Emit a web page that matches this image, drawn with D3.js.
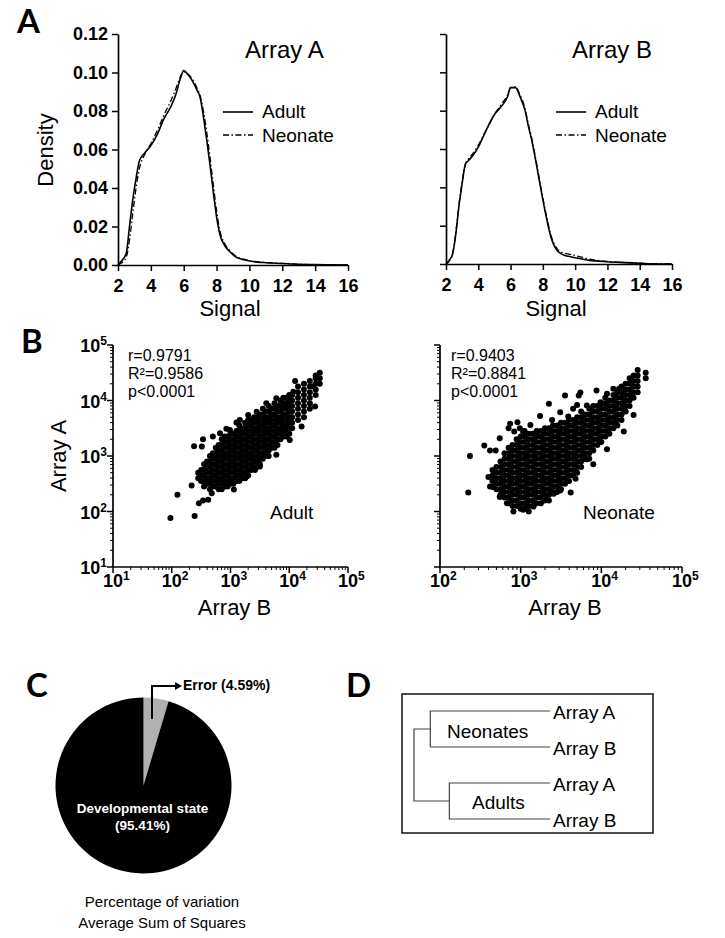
<!DOCTYPE html>
<html><head><meta charset="utf-8">
<script src="https://cdn.jsdelivr.net/npm/d3@7"></script>
<style>body{margin:0;background:#fff}svg{display:block}</style>
</head><body>
<svg id="fig" width="725" height="938"></svg>
<script>
// ================= DATA =================
// Panel A: density curves
const densityTicks = [0, 0.02, 0.04, 0.06, 0.08, 0.10, 0.12];
const signalTicks = [2, 4, 6, 8, 10, 12, 14, 16];
const signalA = [2.0,2.2,2.5,2.7,2.9,3.1,3.3,3.6,4.0,4.4,4.8,5.2,5.5,5.8,6.0,6.2,6.5,6.8,7.0,7.2,7.4,7.6,7.8,8.0,8.2,8.5,8.8,9.2,9.8,10.5,11.0,12.0,13.0,14.0,15.0,16.0];
const arrayA_adult = [0,0.002,0.006,0.020,0.034,0.045,0.054,0.058,0.062,0.068,0.076,0.082,0.088,0.097,0.101,0.0995,0.096,0.091,0.087,0.077,0.065,0.052,0.038,0.025,0.016,0.010,0.007,0.004,0.0025,0.0015,0.0012,0.0008,0.0004,0.0002,0.0001,0];
const arrayA_neonate = [0,0.001,0.004,0.013,0.027,0.040,0.050,0.057,0.063,0.070,0.078,0.085,0.091,0.098,0.1005,0.0995,0.097,0.092,0.088,0.080,0.069,0.056,0.042,0.028,0.018,0.011,0.0075,0.0045,0.0027,0.0016,0.0013,0.0008,0.0004,0.0002,0.0001,0];
const signalB = [2.0,2.2,2.4,2.6,2.8,3.0,3.2,3.4,3.7,4.0,4.5,5.0,5.4,5.8,6.0,6.3,6.6,6.9,7.1,7.3,7.6,7.9,8.2,8.5,8.8,9.2,9.6,10.1,10.9,12.0,13.2,14.2,16.0];
const arrayB_adult = [0,0.002,0.005,0.015,0.030,0.042,0.052,0.054,0.057,0.061,0.070,0.078,0.082,0.087,0.092,0.092,0.087,0.080,0.072,0.065,0.052,0.038,0.025,0.014,0.008,0.005,0.004,0.0031,0.0019,0.0012,0.0007,0.0003,0];
const arrayB_neonate = [0,0.0015,0.005,0.016,0.031,0.043,0.052,0.055,0.058,0.062,0.070,0.078,0.083,0.088,0.092,0.0925,0.088,0.081,0.073,0.066,0.053,0.039,0.026,0.015,0.009,0.006,0.0052,0.0042,0.0025,0.0013,0.0007,0.0003,0];

// Panel B: scatter, grouped as [Array B value, [Array A values]]
const adultColumns = [
 [282, [398, 501]],
 [316, [355, 447, 562]],
 [355, [282, 355, 447, 562, 708]],
 [398, [316, 398, 501, 631, 794]],
 [447, [251, 316, 398, 501, 631, 794, 1000]],
 [501, [282, 355, 447, 562, 708, 891, 1120]],
 [562, [282, 355, 447, 562, 708, 891, 1120, 1410]],
 [631, [251, 316, 398, 501, 631, 794, 1000, 1260, 1580]],
 [708, [251, 316, 398, 501, 631, 794, 1000, 1260, 1580, 2000]],
 [794, [282, 355, 447, 562, 708, 891, 1120, 1410, 1780, 2240]],
 [891, [282, 355, 447, 562, 708, 891, 1120, 1410, 1780, 2240]],
 [1000, [316, 398, 501, 631, 794, 1000, 1260, 1580, 2000, 2510]],
 [1120, [316, 398, 501, 631, 794, 1000, 1260, 1580, 2000, 2510]],
 [1260, [355, 447, 562, 708, 891, 1120, 1410, 1780, 2240, 2820]],
 [1410, [355, 447, 562, 708, 891, 1120, 1410, 1780, 2240, 2820, 3550]],
 [1580, [398, 501, 631, 794, 1000, 1260, 1580, 2000, 2510, 3160]],
 [1780, [398, 501, 631, 794, 1000, 1260, 1580, 2000, 2510, 3160, 3980]],
 [2000, [447, 562, 708, 891, 1120, 1410, 1780, 2240, 2820, 3550, 4470]],
 [2240, [562, 708, 891, 1120, 1410, 1780, 2240, 2820, 3550, 4470]],
 [2510, [631, 794, 1000, 1260, 1580, 2000, 2510, 3160, 3980, 5010]],
 [2820, [631, 794, 1000, 1260, 1580, 2000, 2510, 3160, 3980, 5010]],
 [3160, [708, 891, 1120, 1410, 1780, 2240, 2820, 3550, 4470, 5620]],
 [3550, [891, 1120, 1410, 1780, 2240, 2820, 3550, 4470, 5620, 7080]],
 [3980, [1000, 1260, 1580, 2000, 2510, 3160, 3980, 5010, 6310]],
 [4470, [1000, 1260, 1580, 2000, 2510, 3160, 3980, 5010, 6310, 7940]],
 [5010, [1410, 1780, 2240, 2820, 3550, 4470, 5620, 7080]],
 [5620, [1410, 1780, 2240, 2820, 3550, 4470, 5620, 7080, 8910]],
 [6310, [1580, 2000, 2510, 3160, 3980, 5010, 6310, 7940]],
 [7080, [2000, 2510, 3160, 3980, 5010, 6310, 7940, 10000]],
 [7940, [2240, 2820, 3550, 4470, 5620, 7080, 8910, 11200]],
 [8910, [2240, 2820, 3550, 4470, 5620, 7080, 8910, 11200]],
 [10000, [2510, 3160, 3980, 5010, 6310, 7940, 10000, 12600]],
 [11200, [3160, 3980, 5010, 6310, 7940, 10000, 12600]],
 [14100, [4470, 5620, 7080, 8910, 11200, 14100, 17800]],
 [17800, [5010, 6310, 7940, 10000, 12600, 15800, 20000]],
 [22400, [7080, 8910, 11200, 14100, 17800, 22400]],
 [28200, [12600, 15800, 20000, 25100, 28200]],
 [33100, [20000, 25100, 31600]]
];
const adultOutliers = [[95,76],[125,200],[245,83],[218,295],[240,1500],[340,2000],[325,1480],[290,141],[340,158],[417,162],[479,214],[850,3100],[1260,4000],[2780,6300],[4700,1380],[2600,560],[1140,250],[12600,22400],[25100,18000],
 [501,2240],[661,2570],[977,2950],[1445,4470],[2000,5500],[4070,8900],[6030,11000],[11700,14400],
 [1860,427],[3160,646],[6030,1050],[10200,1950],[16200,3390],[27500,7760]];
const neonateColumns = [
 [447, [282, 355, 447, 562]],
 [501, [251, 316, 398, 501, 631]],
 [562, [200, 251, 316, 398, 501, 631, 794]],
 [631, [178, 224, 282, 355, 447, 562, 708, 891, 1120]],
 [708, [141, 178, 224, 282, 355, 447, 562, 708, 891, 1120, 1410]],
 [794, [126, 158, 200, 251, 316, 398, 501, 631, 794, 1000, 1260, 1580]],
 [891, [126, 158, 200, 251, 316, 398, 501, 631, 794, 1000, 1260, 1580, 2000]],
 [1000, [112, 141, 178, 224, 282, 355, 447, 562, 708, 891, 1120, 1410, 1780, 2240]],
 [1120, [112, 141, 178, 224, 282, 355, 447, 562, 708, 891, 1120, 1410, 1780, 2240, 2820]],
 [1260, [100, 126, 158, 200, 251, 316, 398, 501, 631, 794, 1000, 1260, 1580, 2000, 2510]],
 [1410, [126, 158, 200, 251, 316, 398, 501, 631, 794, 1000, 1260, 1580, 2000, 2510]],
 [1580, [141, 178, 224, 282, 355, 447, 562, 708, 891, 1120, 1410, 1780, 2240, 2820]],
 [1780, [141, 178, 224, 282, 355, 447, 562, 708, 891, 1120, 1410, 1780, 2240, 2820]],
 [2000, [158, 200, 251, 316, 398, 501, 631, 794, 1000, 1260, 1580, 2000, 2510, 3160]],
 [2240, [158, 200, 251, 316, 398, 501, 631, 794, 1000, 1260, 1580, 2000, 2510, 3160]],
 [2510, [224, 282, 355, 447, 562, 708, 891, 1120, 1410, 1780, 2240, 2820, 3550]],
 [2820, [224, 282, 355, 447, 562, 708, 891, 1120, 1410, 1780, 2240, 2820, 3550]],
 [3160, [251, 316, 398, 501, 631, 794, 1000, 1260, 1580, 2000, 2510, 3160, 3980]],
 [3550, [316, 398, 501, 631, 794, 1000, 1260, 1580, 2000, 2510, 3160, 3980]],
 [3980, [355, 447, 562, 708, 891, 1120, 1410, 1780, 2240, 2820, 3550, 4470]],
 [4470, [447, 562, 708, 891, 1120, 1410, 1780, 2240, 2820, 3550, 4470]],
 [5010, [501, 631, 794, 1000, 1260, 1580, 2000, 2510, 3160, 3980, 5010]],
 [5620, [631, 794, 1000, 1260, 1580, 2000, 2510, 3160, 3980, 5010, 6310]],
 [6310, [891, 1120, 1410, 1780, 2240, 2820, 3550, 4470, 5620]],
 [7080, [891, 1120, 1410, 1780, 2240, 2820, 3550, 4470, 5620, 7080]],
 [7940, [1260, 1580, 2000, 2510, 3160, 3980, 5010, 6310, 7940]],
 [8910, [1580, 2000, 2510, 3160, 3980, 5010, 6310, 7940]],
 [10000, [1780, 2240, 2820, 3550, 4470, 5620, 7080, 8910]],
 [11200, [2240, 2820, 3550, 4470, 5620, 7080, 8910, 11200]],
 [12600, [2510, 3160, 3980, 5010, 6310, 7940, 10000]],
 [14100, [3160, 3980, 5010, 6310, 7940, 10000, 12600]],
 [15800, [3550, 4470, 5620, 7080, 8910, 11200, 14100]],
 [17800, [4470, 5620, 7080, 8910, 11200, 14100, 17800]],
 [20000, [6310, 7940, 10000, 12600, 15800, 20000]],
 [22400, [7940, 10000, 12600, 15800, 20000, 25100]],
 [25100, [11200, 14100, 17800, 22400, 28200]],
 [28200, [14100, 17800, 22400, 28200, 35500]],
 [35500, [25100, 31600]]
];
const neonateOutliers = [[224,219],[235,1000],[354,1550],[417,1260],[490,1260],[398,417],[417,282],[740,3800],[912,4070],[832,2750],[1070,2750],[1740,5250],[2240,8710],[3550,12300],[5250,12300],[5010,8320],[8710,15100],[15100,4270],[19000,6920],[16600,16200],[4170,219],[6610,870],[2570,209],[813,100],[1070,107],[5500,14000],
 [550,2090],[708,3160],[977,3160],[1320,3630],[1585,2750],[2450,4470],[3090,6170],[3890,5130],[4470,7080],[6610,8130],[9770,9330],[11750,13200],[14100,16200],
 [457,275],[550,182],[676,141],[1445,123],[2090,162],[3090,240],[4790,389],[7940,708],[11750,1320],[19000,2750],[25100,5500]];
const adultStats = ["r=0.9791", "R²=0.9586", "p<0.0001"];
const neonateStats = ["r=0.9403", "R²=0.8841", "p<0.0001"];

// Panel C: variance components
const variance = [{name: "Error", value: 4.59}, {name: "Developmental state", value: 95.41}];
const pieCaption = ["Percentage of variation", "Average Sum of Squares"];

// Panel D: dendrogram
const leafLabels = ["Array A", "Array B", "Array A", "Array B"];
const clusterNames = ["Neonates", "Adults"];
const mergeHeights = {root: 1.0, Neonates: 0.88, Adults: 0.74};

// ================= DRAW =================
const FONT = "'Liberation Sans', Arial, Helvetica, sans-serif";
const svg = d3.select("#fig");

function panelLabel(t, x, y) {
  svg.append("text").attr("x", x).attr("y", y).text(t)
    .attr("font-family", "Lato, 'Open Sans', sans-serif").attr("font-weight", 700).attr("font-size", 33);
}
function txt(t, x, y, size, opts = {}) {
  const e = svg.append("text").attr("x", x).attr("y", y).text(t)
    .attr("font-family", FONT).attr("font-size", size)
    .attr("font-weight", opts.bold ? 700 : 400)
    .attr("text-anchor", opts.anchor || "start")
    .attr("fill", opts.fill || "#000");
  if (opts.rotate) e.attr("transform", `rotate(-90,${x},${y})`);
  return e;
}

// ---- Panel A ----
function densityPanel(xr, yr, sig, adult, neo, title, showY, titleX, legendX) {
  const x = d3.scaleLinear().domain([2, 16]).range(xr);
  const y = d3.scaleLinear().domain([0, 0.12]).range(yr);
  const ay = svg.append("g").attr("transform", `translate(${xr[0]},0)`)
    .call(d3.axisLeft(y).tickValues(densityTicks).tickSize(6).tickSizeOuter(0).tickPadding(4)
      .tickFormat(showY ? d3.format(".2f") : () => ""));
  const ax = svg.append("g").attr("transform", `translate(0,${yr[0]})`)
    .call(d3.axisBottom(x).tickValues(signalTicks).tickSize(6).tickSizeOuter(0).tickPadding(8));
  [ay, ax].forEach(g => {
    g.attr("font-family", FONT).attr("font-size", 18).attr("font-weight", 700);
    g.select(".domain").attr("stroke", "#000").attr("stroke-width", 1.7);
    g.selectAll(".tick line").attr("stroke", "#000").attr("stroke-width", 1.5);
    g.selectAll(".tick text").attr("fill", "#000");
  });
  const line = d3.line().x((d, i) => x(sig[i])).y(d => y(d)).curve(d3.curveMonotoneX);
  svg.append("path").attr("d", line(neo)).attr("fill", "none").attr("stroke", "#000")
    .attr("stroke-width", 1.3).attr("stroke-dasharray", "6,2.5,1.5,2.5");
  svg.append("path").attr("d", line(adult)).attr("fill", "none").attr("stroke", "#000")
    .attr("stroke-width", 1.6);
  txt(title, titleX, 58, 24);
  svg.append("line").attr("x1", legendX).attr("x2", legendX + 30).attr("y1", 112).attr("y2", 112)
    .attr("stroke", "#000").attr("stroke-width", 1.6);
  svg.append("line").attr("x1", legendX).attr("x2", legendX + 30).attr("y1", 135).attr("y2", 135)
    .attr("stroke", "#000").attr("stroke-width", 1.3).attr("stroke-dasharray", "6,2.5,1.5,2.5");
  txt("Adult", legendX + 39, 118, 19);
  txt("Neonate", legendX + 39, 142, 19);
  txt("Signal", (xr[0] + xr[1]) / 2 - 3, 316, 22, {anchor: "middle"});
}
densityPanel([118, 348], [265, 34], signalA, arrayA_adult, arrayA_neonate, "Array A", true, 245, 223);
densityPanel([446, 672], [264, 34], signalB, arrayB_adult, arrayB_neonate, "Array B", false, 572, 556);
txt("Density", 53, 150, 22, {anchor: "middle", rotate: true});

// ---- Panel B ----
function logTicks(scale) {
  const [a, b] = scale.domain();
  const out = [];
  for (let e = Math.round(Math.log10(a)); e <= Math.round(Math.log10(b)); e++) {
    for (let m = 1; m <= 9; m++) {
      const v = m * Math.pow(10, e);
      if (v >= a * 0.999 && v <= b * 1.001) out.push({v, major: m === 1, e});
    }
  }
  return out;
}
function supLabel(x, y, exp, anchor) {
  const t = svg.append("text").attr("x", x).attr("y", y).attr("text-anchor", anchor)
    .attr("font-family", FONT).attr("font-weight", 700).attr("font-size", 18).attr("fill", "#000");
  t.append("tspan").text("10");
  t.append("tspan").text(exp).attr("font-size", 12).attr("dy", -7);
}
function scatterPanel(xr, yr, xDom, cols, outl, stats, group, showYLabels, statX, groupX) {
  const x = d3.scaleLog().domain(xDom).range(xr);
  const y = d3.scaleLog().domain([10, 1e5]).range(yr);
  const g = svg.append("g");
  g.append("line").attr("x1", xr[0]).attr("x2", xr[0]).attr("y1", yr[0]).attr("y2", yr[1]).attr("stroke", "#000").attr("stroke-width", 1.7);
  g.append("line").attr("x1", xr[0]).attr("x2", xr[1]).attr("y1", yr[0]).attr("y2", yr[0]).attr("stroke", "#000").attr("stroke-width", 1.7);
  logTicks(x).forEach(t => {
    g.append("line").attr("x1", x(t.v)).attr("x2", x(t.v)).attr("y1", yr[0]).attr("y2", yr[0] + (t.major ? 6 : 3))
      .attr("stroke", "#000").attr("stroke-width", t.major ? 1.5 : 1);
    if (t.major) supLabel(x(t.v) - 10, 587, String(t.e), "start");
  });
  logTicks(y).forEach(t => {
    g.append("line").attr("x1", xr[0]).attr("x2", xr[0] - (t.major ? 6 : 3)).attr("y1", y(t.v)).attr("y2", y(t.v))
      .attr("stroke", "#000").attr("stroke-width", t.major ? 1.5 : 1);
    if (t.major && showYLabels) supLabel(xr[0] - 6, y(t.v) + 7, String(t.e), "end");
  });
  const pts = [];
  cols.forEach(([b, as]) => as.forEach(a => pts.push([b, a])));
  outl.forEach(p => pts.push(p));
  g.selectAll("circle.pt").data(pts).enter().append("circle").attr("class", "pt")
    .attr("cx", d => x(d[0])).attr("cy", d => y(d[1])).attr("r", 3.0).attr("fill", "#000");
  stats.forEach((s, i) => txt(s, statX, 361 + i * 18, 16));
  txt(group, groupX, 519, 19);
  txt("Array B", (xr[0] + xr[1]) / 2 + 4, 615, 22, {anchor: "middle"});
}
scatterPanel([113, 348], [567, 345], [10, 1e5], adultColumns, adultOutliers, adultStats, "Adult", true, 128, 270);
scatterPanel([440, 682], [567, 345], [100, 1e5], neonateColumns, neonateOutliers, neonateStats, "Neonate", false, 451, 583);
txt("Array A", 66, 456, 22, {anchor: "middle", rotate: true});

// ---- Panel C ----
const cx = 143.5, cy = 785.5, R = 88;
const pie = d3.pie().sort(null).value(d => d.value);
const arc = d3.arc().innerRadius(0).outerRadius(R);
const pieColors = {"Error": "#b0b0b0", "Developmental state": "#000"};
svg.append("g").attr("transform", `translate(${cx},${cy})`).selectAll("path")
  .data(pie(variance)).enter().append("path").attr("d", arc).attr("fill", d => pieColors[d.data.name]);
svg.append("path").attr("d", "M152,719 L152,686 L176,686").attr("fill", "none").attr("stroke", "#000").attr("stroke-width", 2);
svg.append("path").attr("d", "M175,682 L182,686 L175,690 Z").attr("fill", "#000");
txt(`${variance[0].name} (${variance[0].value.toFixed(2)}%)`, 183, 690, 14, {bold: true});
txt(variance[1].name, cx - 1, 813, 13.5, {bold: true, anchor: "middle", fill: "#fff"});
txt(`(${variance[1].value.toFixed(2)}%)`, cx - 1, 830, 13.5, {bold: true, anchor: "middle", fill: "#fff"});
txt(pieCaption[0], 162, 907, 15, {anchor: "middle"});
txt(pieCaption[1], 162, 928, 15, {anchor: "middle"});

// ---- Panel D ----
svg.append("rect").attr("x", 402).attr("y", 694).attr("width", 251).attr("height", 139)
  .attr("fill", "none").attr("stroke", "#111").attr("stroke-width", 1.5);
const hx = d3.scaleLinear().domain([0, 1]).range([550, 414]);
const ly = d3.scalePoint().domain(d3.range(leafLabels.length)).range([711, 819]);
const dg = svg.append("g").attr("fill", "none").attr("stroke", "#444").attr("stroke-width", 1.2);
const mids = [];
clusterNames.forEach((name, k) => {
  const i0 = 2 * k, i1 = 2 * k + 1;
  const xn = hx(mergeHeights[name]);
  dg.append("path").attr("d", `M${hx(0)},${ly(i0)} H${xn} V${ly(i1)} H${hx(0)}`);
  mids.push([xn, (ly(i0) + ly(i1)) / 2]);
});
const xr0 = hx(mergeHeights.root);
dg.append("path").attr("d", `M${mids[0][0]},${mids[0][1]} H${xr0} V${mids[1][1]} H${mids[1][0]}`);
leafLabels.forEach((l, i) => txt(l, 553, ly(i) + 8, 19));
txt(clusterNames[0], 447, 738, 19);
txt(clusterNames[1], 472, 809, 19);

// ---- Panel labels ----
panelLabel("A", 17, 33);
panelLabel("B", 21, 353);
panelLabel("C", 26, 697);
panelLabel("D", 346, 697);
</script>
</body></html>
